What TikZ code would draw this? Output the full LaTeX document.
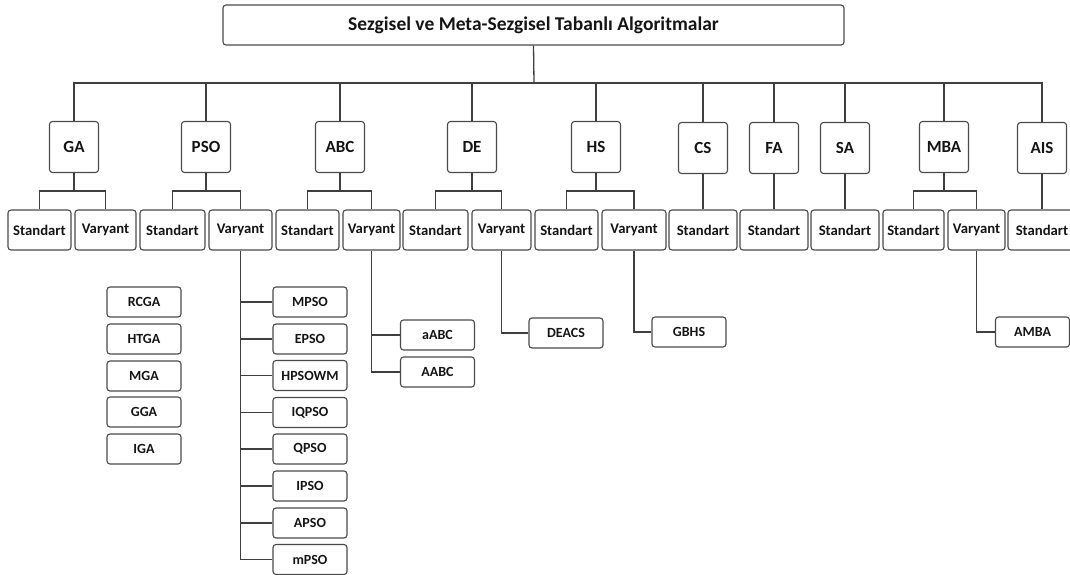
\documentclass[tikz,border=0pt]{standalone}
\usepackage{fontspec}
\setmainfont{Carlito}
\definecolor{ln}{HTML}{3F3F3F}
\definecolor{bx}{HTML}{4A4A4A}
\definecolor{tx}{HTML}{151515}
\begin{document}
\begin{tikzpicture}[x=1pt,y=-1pt,
  base/.style={draw=bx,line width=1.1pt,rounded corners=3pt,rectangle,inner sep=0pt,text=tx,font=\bfseries},
  topbox/.style={base,minimum width=621pt,minimum height=40pt,font=\bfseries\fontsize{19.5}{23}\selectfont},
  lone/.style={base,minimum width=49pt,minimum height=51pt,font=\bfseries\fontsize{17}{20}\selectfont},
  ltwo/.style={base,minimum height=40pt,font=\bfseries\fontsize{14.7}{17}\selectfont},
  lthree/.style={base,minimum width=74pt,minimum height=30pt,font=\bfseries\fontsize{14}{16}\selectfont},
  conn/.style={draw=ln,line width=1.3pt}]
\useasboundingbox (0,0) rectangle (1070,574);
\clip (0,0) rectangle (1070,574);

% title
\node[topbox] (title) at (533.5,25) {\raisebox{2pt}{Sezgisel ve Meta-Sezgisel Tabanlı Algoritmalar}};
\coordinate (bus) at (534,83);

% level 1
\node[lone] (ga)  at (74,147)  {GA};
\node[lone] (pso) at (206,147) {PSO};
\node[lone] (abc) at (340,147) {ABC};
\node[lone] (de)  at (472,147) {DE};
\node[lone] (hs)  at (596,147) {HS};
\node[lone] (cs)  at (703,148) {CS};
\node[lone] (fa)  at (774,148) {FA};
\node[lone] (sa)  at (845,148) {SA};
\node[lone] (mba) at (944,147) {MBA};
\node[lone] (ais) at (1042,148) {AIS};

% level 2
\node[ltwo,minimum width=63pt] (gas)  at (39.5,230)  {Standart};
\node[ltwo,minimum width=61pt] (gav)  at (105.5,230) {Varyant};
\node[ltwo,minimum width=65pt] (psos) at (172.5,230) {Standart};
\node[ltwo,minimum width=63pt] (psov) at (240.5,230) {Varyant};
\node[ltwo,minimum width=63pt] (abcs) at (307.5,230) {Standart};
\node[ltwo,minimum width=57pt] (abcv) at (371.5,230) {Varyant};
\node[ltwo,minimum width=65pt] (des)  at (435.5,230) {Standart};
\node[ltwo,minimum width=59pt] (dev)  at (501.5,230) {Varyant};
\node[ltwo,minimum width=63pt] (hss)  at (566.5,230) {Standart};
\node[ltwo,minimum width=64pt] (hsv)  at (634,230)   {Varyant};
\node[ltwo,minimum width=68pt] (css)  at (703,230)   {Standart};
\node[ltwo,minimum width=68pt] (fas)  at (774,230)   {Standart};
\node[ltwo,minimum width=68pt] (sas)  at (845,230)   {Standart};
\node[ltwo,minimum width=61pt] (mbas) at (913.5,230) {Standart};
\node[ltwo,minimum width=57pt] (mbav) at (976.5,230) {Varyant};
\node[ltwo,minimum width=68pt] (aiss) at (1042,230)  {Standart};

% level 3: GA list
\node[lthree] (rcga) at (144,302) {RCGA};
\node[lthree] (htga) at (144,339) {HTGA};
\node[lthree] (mga)  at (144,376) {MGA};
\node[lthree] (gga)  at (144,412) {GGA};
\node[lthree] (iga)  at (144,449) {IGA};

% PSO list
\node[lthree] (p1) at (310,302) {MPSO};
\node[lthree] (p2) at (310,339) {EPSO};
\node[lthree] (p3) at (310,375.5) {HPSOWM};
\node[lthree] (p4) at (310,412.5) {IQPSO};
\node[lthree] (p5) at (310,449) {QPSO};
\node[lthree] (p6) at (310,486) {IPSO};
\node[lthree] (p7) at (310,523) {APSO};
\node[lthree] (p8) at (310,559.5) {mPSO};

% ABC list
\node[lthree] (a1) at (437.5,335) {aABC};
\node[lthree] (a2) at (437.5,372) {AABC};

% others
\node[lthree] (deacs) at (566,333) {DEACS};
\node[lthree] (gbhs)  at (689,332) {GBHS};
\node[lthree] (amba)  at (1032.5,332) {AMBA};

% top connectors
\draw[conn] (title.south) -- (bus);
\draw[conn] (ga.north) -- (ga.north |- bus) -- (ais.north |- bus) -- (ais.north);
\foreach \n in {pso,abc,de,hs,cs,fa,sa,mba}{
  \draw[conn] (\n.north) -- (\n.north |- bus);
}

% level 1 -> level 2 (two children)
\foreach \p/\s/\v in {ga/gas/gav,pso/psos/psov,abc/abcs/abcv,de/des/dev,hs/hss/hsv,mba/mbas/mbav}{
  \coordinate (\p-b) at ([yshift=-18pt]\p.south);
  \draw[conn] (\p.south) -- (\p-b);
  \draw[conn] (\s.north) |- (\p-b) -| (\v.north);
}
% level 1 -> level 2 (one child)
\foreach \p/\s in {cs/css,fa/fas,sa/sas,ais/aiss}{
  \draw[conn] (\p.south) -- (\s.north);
}

% variant lists
\draw[conn] (psov.south) |- (p8.west);
\foreach \n in {p1,p2,p3,p4,p5,p6,p7}{
  \draw[conn] (\n.west) -- (\n.west -| psov.south);
}
\draw[conn] (abcv.south) |- (a2.west);
\draw[conn] (a1.west) -- (a1.west -| abcv.south);
\draw[conn] (dev.south) |- (deacs.west);
\draw[conn] (hsv.south) |- (gbhs.west);
\draw[conn] (mbav.south) |- (amba.west);
\end{tikzpicture}
\end{document}
